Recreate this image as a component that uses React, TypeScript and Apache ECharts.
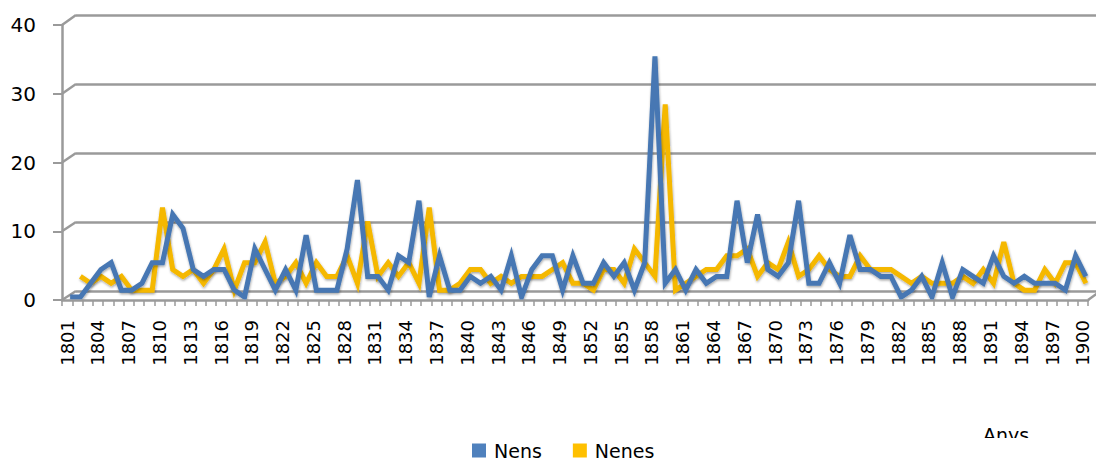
import { useEffect, useRef } from "react";
import * as echarts from "echarts";

// Births per year, boys (Nens) and girls (Nenes), 1801-1900
const FIRST_YEAR = 1801;
const LAST_YEAR = 1900;
const years: string[] = [];
for (let y = FIRST_YEAR; y <= LAST_YEAR; y++) years.push(String(y));

const nens: number[] = [
  0, 0, 2, 4, 5, 1, 1, 2, 5, 5, // 1801-1810
  12, 10, 4, 3, 4, 4, 1, 0, 7, 4, // 1811-1820
  1, 4, 1, 9, 1, 1, 1, 7, 17, 3, // 1821-1830
  3, 1, 6, 5, 14, 0, 6, 1, 1, 3, // 1831-1840
  2, 3, 1, 6, 0, 4, 6, 6, 1, 6, // 1841-1850
  2, 2, 5, 3, 5, 1, 5, 35, 2, 4, // 1851-1860
  1, 4, 2, 3, 3, 14, 5, 12, 4, 3, // 1861-1870
  5, 14, 2, 2, 5, 2, 9, 4, 4, 3, // 1871-1880
  3, 0, 1, 3, 0, 5, 0, 4, 3, 2, // 1881-1890
  6, 3, 2, 3, 2, 2, 2, 1, 6, 3, // 1891-1900
];

const nenes: (number | null)[] = [
  null, 3, 2, 3, 2, 3, 1, 1, 1, 13, // 1801-1810
  4, 3, 4, 2, 4, 7, 1, 5, 5, 8, // 1811-1820
  2, 3, 5, 2, 5, 3, 3, 6, 2, 11, // 1821-1830
  3, 5, 3, 5, 2, 13, 1, 1, 2, 4, // 1831-1840
  4, 2, 3, 2, 3, 3, 3, 4, 5, 2, // 1841-1850
  2, 1, 4, 4, 2, 7, 5, 3, 28, 1, // 1851-1860
  2, 3, 4, 4, 6, 6, 7, 3, 5, 4, // 1861-1870
  8, 3, 4, 6, 4, 3, 3, 6, 4, 4, // 1871-1880
  4, 3, 2, 3, 2, 2, 2, 3, 2, 4, // 1881-1890
  2, 8, 2, 1, 1, 4, 2, 5, 5, 2, // 1891-1900
];

const yTicks = [0, 10, 20, 30, 40];
const seriesNames = ["Nens", "Nenes"];
const axisTitle = "Anys";

const FONT = "DejaVu Sans";
const GRID_GRAY = "#9a9a9a";
const BLUE = "#4F81BD";
const BLUE_LINE = "#4677B3";
const YELLOW = "#FFC000";
const YELLOW_LINE = "#F5B800";

// Perspective layout: front axes, back wall and the plane the lines run in
const FRONT = { left: 62, top: 25, width: 1026, height: 275 };
const BACK = { left: 76, top: 15, width: 1030, height: 276 };
const PLOT = { left: 65, top: 22, width: 1026, height: 275 };
const DEPTH = { dx: BACK.left - FRONT.left, dy: FRONT.top - BACK.top };

export default function App() {
  const ref = useRef<HTMLDivElement>(null);

  useEffect(() => {
    if (!ref.current) return;
    const chart = echarts.init(ref.current, null, { renderer: "svg" });
    const yMax = yTicks[yTicks.length - 1];
    const step = yTicks[1] - yTicks[0];

    const connectors: any[] = yTicks.map((v) => {
      const fy = FRONT.top + FRONT.height * (1 - v / yMax);
      const by = BACK.top + BACK.height * (1 - v / yMax);
      return {
        type: "line",
        silent: true,
        shape: { x1: FRONT.left, y1: fy, x2: BACK.left, y2: by },
        style: { stroke: GRID_GRAY, lineWidth: 2.5 },
        z: 0,
      };
    });
    const floorRight = FRONT.left + FRONT.width;
    const floorY = FRONT.top + FRONT.height;
    connectors.push({
      type: "line",
      silent: true,
      shape: { x1: floorRight, y1: floorY, x2: floorRight + DEPTH.dx, y2: floorY - DEPTH.dy },
      style: { stroke: GRID_GRAY, lineWidth: 2.5 },
      z: 0,
    });

    const lineShadow = {
      shadowColor: "rgba(0,0,0,0.35)",
      shadowBlur: 2,
      shadowOffsetX: 0.5,
      shadowOffsetY: 1.5,
    };

    chart.setOption({
      animation: false,
      backgroundColor: "#ffffff",
      textStyle: { fontFamily: FONT },
      grid: [
        { ...BACK, containLabel: false },
        { ...FRONT, containLabel: false },
        { ...PLOT, containLabel: false },
      ],
      xAxis: [
        { gridIndex: 0, type: "category", data: years, show: false },
        {
          gridIndex: 1,
          type: "category",
          data: years,
          boundaryGap: true,
          axisLine: { show: true, lineStyle: { color: GRID_GRAY, width: 2.5 } },
          axisTick: { show: true, interval: 0, length: 6, lineStyle: { color: GRID_GRAY, width: 1.5 } },
          axisLabel: {
            interval: 2,
            rotate: 90,
            margin: 20,
            fontSize: 18,
            fontFamily: FONT,
            color: "#000000",
          },
          splitLine: { show: false },
        },
        { gridIndex: 2, type: "category", data: years, boundaryGap: true, show: false },
      ],
      yAxis: [
        {
          gridIndex: 0,
          type: "value",
          min: 0,
          max: yMax,
          interval: step,
          axisLine: { show: false },
          axisTick: { show: false },
          axisLabel: { show: false },
          splitLine: { show: true, lineStyle: { color: GRID_GRAY, width: 2.5 } },
        },
        {
          gridIndex: 1,
          type: "value",
          min: 0,
          max: yMax,
          interval: step,
          axisLine: { show: true, lineStyle: { color: GRID_GRAY, width: 2.5 } },
          axisTick: { show: true, length: 9, lineStyle: { color: GRID_GRAY, width: 2 } },
          axisLabel: { margin: 26, fontSize: 20, fontFamily: FONT, color: "#000000" },
          splitLine: { show: false },
        },
        { gridIndex: 2, type: "value", min: 0, max: yMax, show: false, splitLine: { show: false } },
      ],
      legend: {
        data: seriesNames,
        left: 467,
        top: 436,
        icon: "rect",
        itemWidth: 14,
        itemHeight: 14,
        itemGap: 31,
        z: 10,
        textStyle: {
          fontSize: 19,
          fontFamily: FONT,
          color: "#000000",
          padding: [0, 0, 0, 3],
          lineHeight: 18,
        },
      },
      series: [
        {
          name: seriesNames[0],
          type: "line",
          xAxisIndex: 2,
          yAxisIndex: 2,
          data: nens,
          color: BLUE,
          symbol: "none",
          z: 4,
          lineStyle: { color: BLUE_LINE, width: 5, join: "miter", ...lineShadow },
        },
        {
          name: seriesNames[1],
          type: "line",
          xAxisIndex: 2,
          yAxisIndex: 2,
          data: nenes,
          color: YELLOW,
          symbol: "none",
          z: 3,
          lineStyle: { color: YELLOW_LINE, width: 5, join: "miter", ...lineShadow },
        },
      ],
      graphic: [
        ...connectors,
        {
          type: "text",
          silent: true,
          x: 983,
          y: 425,
          z: 1,
          style: { text: axisTitle, font: `19px "${FONT}"`, fill: "#000000" },
        },
        {
          type: "rect",
          silent: true,
          z: 2,
          shape: { x: 960, y: 438, width: 110, height: 30 },
          style: { fill: "#ffffff" },
        },
      ],
    });

    return () => chart.dispose();
  }, []);

  return (
    <div
      ref={ref}
      style={{ position: "fixed", left: 0, top: 0, width: 1096, height: 461, background: "#fff" }}
    />
  );
}
